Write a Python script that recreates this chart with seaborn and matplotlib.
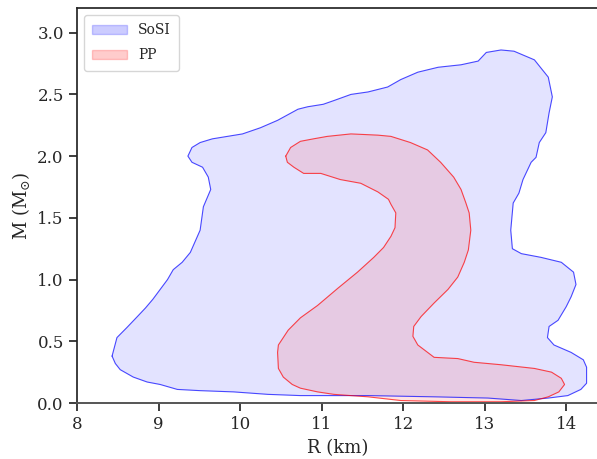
import numpy as np
import pandas as pd
import seaborn as sns
import matplotlib.pyplot as plt
from matplotlib.patches import Patch

# Outline of the SoSI credible region (R in km, M in solar masses)
sosi_r = [8.43, 8.49, 8.61, 8.74, 8.84, 8.93, 9.02, 9.11, 9.18, 9.29, 9.39, 9.45,
          9.51, 9.55, 9.64, 9.61, 9.54, 9.41, 9.36, 9.41, 9.51, 9.66, 10.03, 10.25,
          10.46, 10.71, 10.83, 11.02, 11.15, 11.36, 11.57, 11.81, 11.97, 12.18, 12.43,
          12.71, 12.92, 13.02, 13.20, 13.36, 13.61, 13.78, 13.83, 13.79, 13.75, 13.67,
          13.63, 13.57, 13.47, 13.42, 13.35, 13.32, 13.34, 13.45, 13.69, 13.94, 14.09,
          14.12, 14.06, 14.00, 13.90, 13.79, 13.77, 13.85, 14.06, 14.21, 14.25, 14.25,
          14.18, 14.02, 13.78, 13.45, 13.04, 12.38, 11.57, 10.74, 10.34, 9.92, 9.51,
          9.23, 9.02, 8.86, 8.69, 8.53, 8.47]
sosi_m = [0.38, 0.53, 0.61, 0.70, 0.77, 0.84, 0.92, 1.00, 1.08, 1.14, 1.22, 1.31,
          1.40, 1.59, 1.73, 1.83, 1.91, 1.95, 2.00, 2.07, 2.11, 2.14, 2.18, 2.23,
          2.29, 2.38, 2.40, 2.42, 2.45, 2.50, 2.52, 2.56, 2.62, 2.68, 2.72,
          2.74, 2.77, 2.84, 2.86, 2.85, 2.78, 2.64, 2.48, 2.35, 2.19, 2.11,
          1.99, 1.95, 1.81, 1.70, 1.62, 1.40, 1.25, 1.21, 1.18, 1.14, 1.06,
          0.96, 0.86, 0.78, 0.67, 0.62, 0.53, 0.47, 0.41, 0.35, 0.29, 0.16,
          0.11, 0.06, 0.04, 0.02, 0.04, 0.05, 0.06, 0.06, 0.07, 0.09, 0.10,
          0.11, 0.15, 0.17, 0.21, 0.27, 0.32]

# Outline of the PP credible region
pp_r = [10.56, 10.62, 10.74, 10.90, 11.07, 11.36, 11.69, 11.85, 12.09, 12.30, 12.46,
        12.62, 12.71, 12.77, 12.81, 12.83, 12.80, 12.75, 12.67, 12.55, 12.38, 12.22,
        12.13, 12.12, 12.18, 12.30, 12.38, 12.67, 12.87, 13.20, 13.61, 13.82, 13.94,
        13.98, 13.91, 13.78, 13.61, 13.20, 12.59, 11.97, 11.57, 11.15, 10.95, 10.74,
        10.64, 10.53, 10.47, 10.46, 10.47, 10.53, 10.59, 10.74, 10.95, 11.20, 11.44,
        11.64, 11.76, 11.85, 11.90, 11.91, 11.85, 11.82, 11.69, 11.48, 11.23, 10.99,
        10.78, 10.66, 10.58]
pp_m = [2.00, 2.07, 2.12, 2.14, 2.16, 2.18, 2.17, 2.16, 2.11, 2.05, 1.95,
        1.83, 1.73, 1.62, 1.54, 1.40, 1.24, 1.14, 1.02, 0.92, 0.81, 0.70,
        0.62, 0.54, 0.47, 0.41, 0.37, 0.36, 0.33, 0.31, 0.28, 0.25, 0.20,
        0.15, 0.09, 0.05, 0.02, 0.01, 0.01, 0.02, 0.05, 0.07, 0.09, 0.12,
        0.15, 0.21, 0.28, 0.41, 0.47, 0.53, 0.59, 0.69, 0.79, 0.93, 1.06,
        1.18, 1.26, 1.35, 1.42, 1.54, 1.61, 1.65, 1.71, 1.78, 1.81, 1.86,
        1.86, 1.91, 1.95]

labels = ['SoSI', 'PP']
colors = ['blue', 'red']

sns.set_theme(style='ticks')
plt.rcParams['font.family'] = ['DejaVu Serif']
plt.rcParams['mathtext.fontset'] = 'dejavuserif'

fig = plt.figure(figsize=(5.97, 4.59), dpi=100)
ax = fig.add_axes([77 / 597, 56 / 459, 521 / 597, 395 / 459])

regions = [(sosi_r, sosi_m), (pp_r, pp_m)]
for (r, m), col in zip(regions, colors):
    # close the loop
    df = pd.DataFrame({'R': r + r[:1], 'M': m + m[:1]})
    ax.fill(df['R'], df['M'], color=col, alpha=0.11, lw=0)
    sns.lineplot(data=df, x='R', y='M', sort=False, estimator=None,
                 color=col, alpha=0.7, lw=0.8, ax=ax)

handles = [Patch(facecolor=c, edgecolor=c, alpha=0.2) for c in colors]
ax.legend(handles, labels, loc='upper left', fontsize=10,
          handlelength=2.5, borderpad=0.6, labelspacing=0.8)

ax.set_xlim(8, 14.39)
ax.set_ylim(0, 3.2)
ax.set_xticks(np.arange(8, 15, 1))
ax.set_yticks(np.arange(0, 3.01, 0.5))
ax.tick_params(labelsize=12)
ax.spines['bottom'].set_color('#555555')
ax.spines['bottom'].set_linewidth(1.4)
ax.set_xlabel('R (km)', fontsize=13)
ax.set_ylabel(r'M (M$_{\odot}$)', fontsize=13)

fig.savefig('out.png', dpi=100)
